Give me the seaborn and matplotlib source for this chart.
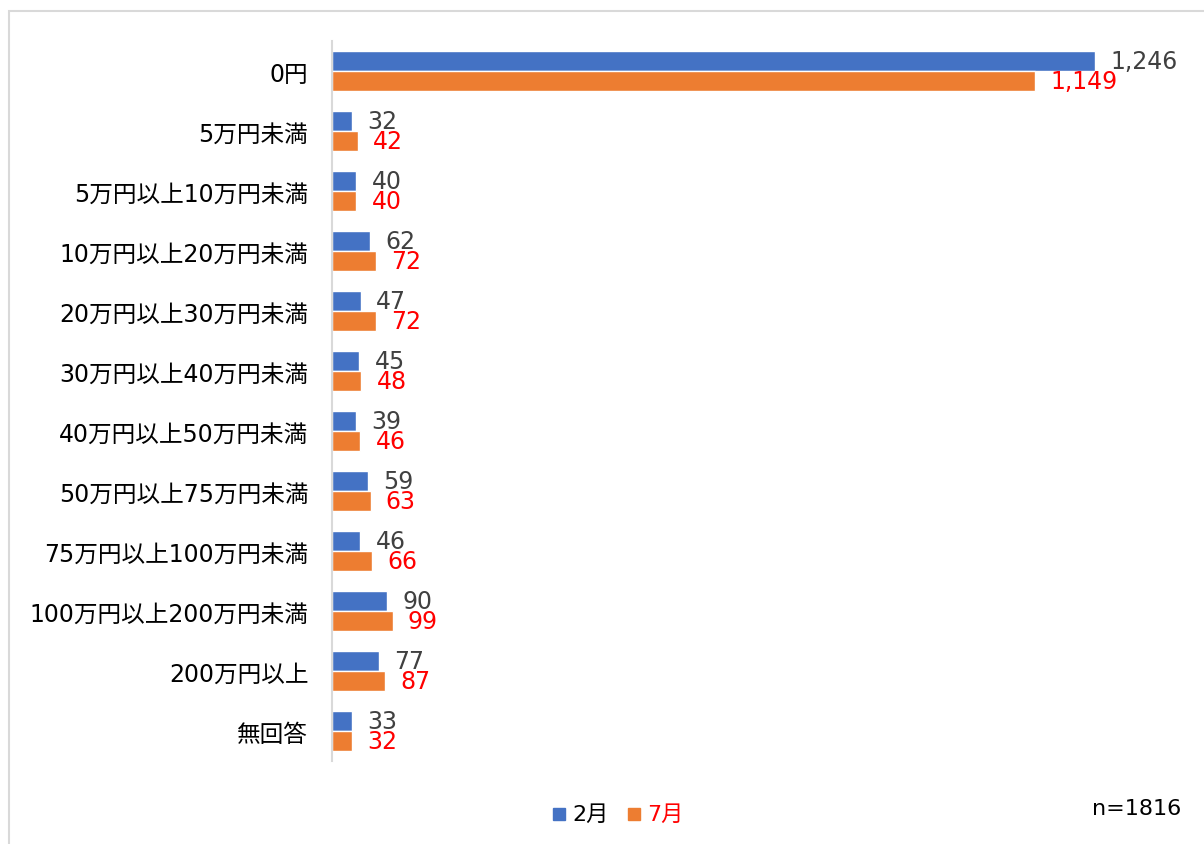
import matplotlib
matplotlib.use('Agg')
import matplotlib.pyplot as plt
import seaborn as sns
import pandas as pd
from matplotlib.patches import Rectangle

# ─────────────────────────────────────────
# data
# ─────────────────────────────────────────
categories = ['0円', '5万円未満', '5万円以上10万円未満', '10万円以上20万円未満',
              '20万円以上30万円未満', '30万円以上40万円未満', '40万円以上50万円未満',
              '50万円以上75万円未満', '75万円以上100万円未満', '100万円以上200万円未満',
              '200万円以上', '無回答']
feb = [1246, 32, 40, 62, 47, 45, 39, 59, 46, 90, 77, 33]
jul = [1149, 42, 40, 72, 72, 48, 46, 63, 66, 99, 87, 32]
series = ['2月', '7月']
n_label = 'n=1816'

df = pd.DataFrame({
    'cat': categories * 2,
    'value': feb + jul,
    'month': [series[0]] * len(feb) + [series[1]] * len(jul),
})

sns.set_style('white')
# DejaVu first gives the wide digits, Noto CJK picks up the kanji
fams = ['DejaVu Sans', 'Noto Sans CJK JP']
plt.rcParams['font.family'] = fams

blue, orange = '#4472C4', '#ED7D31'
W, H = 1204, 845
fig = plt.figure(figsize=(W / 100, H / 100), dpi=100)
ax = fig.add_axes([0.2757, 0.098, 0.712, 0.852])

sns.barplot(data=df, y='cat', x='value', hue='month', order=categories,
            hue_order=series, palette=[blue, orange], orient='h',
            width=0.667, saturation=1, ax=ax, legend=False)

ax.set_xlim(0, 1400)
ax.set_ylim(len(categories) - 0.5, -0.5)
ax.set_xlabel('')
ax.set_ylabel('')
ax.set_xticks([])
ax.tick_params(axis='y', length=0, labelsize=17, pad=17, colors='black')
for s in ['top', 'right', 'bottom']:
    ax.spines[s].set_visible(False)
ax.spines['left'].set_color('#d9d9d9')
ax.spines['left'].set_linewidth(1.5)

# value labels
label_colors = ['#404040', '#FF0000']
for cont, col in zip(ax.containers, label_colors):
    ax.bar_label(cont, labels=[f'{v:,.0f}' for v in cont.datavalues],
                 padding=11, color=col, fontsize=17)

# legend + n
for x0, col in [(553, blue), (628, orange)]:
    fig.patches.append(Rectangle((x0 / W, 1 - 821 / H), 12 / W, 12 / H,
                                 transform=fig.transFigure, color=col))
fig.text(572 / W, 1 - 815 / H, series[0], color='black', fontsize=16, va='center')
fig.text(647 / W, 1 - 815 / H, series[1], color='#FF0000', fontsize=16, va='center')
fig.text(1181 / W, 1 - 809 / H, n_label, color='black', fontsize=16, va='center', ha='right')

# outer frame
fig.patches.append(Rectangle((9 / W, -0.01), 1.02, 1 - 12 / H + 0.01,
                             transform=fig.transFigure, fill=False,
                             edgecolor='#d9d9d9', linewidth=1.5))

plt.savefig('out.png', dpi=100)
